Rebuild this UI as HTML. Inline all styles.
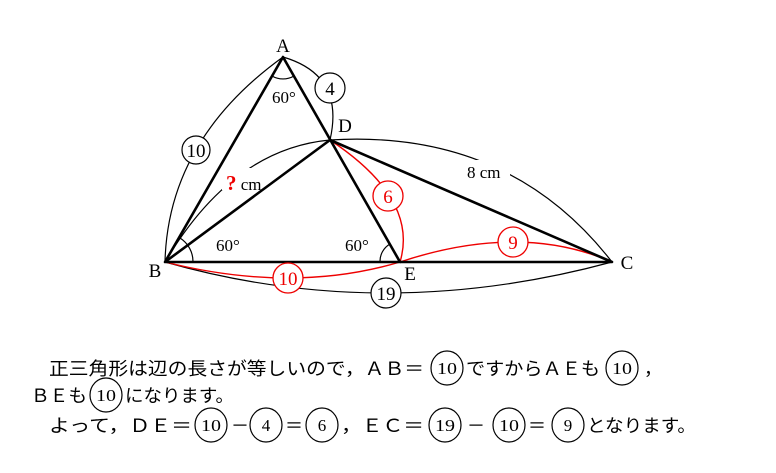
<!DOCTYPE html>
<html><head><meta charset="utf-8"><style>
body{margin:0;background:#fff}
svg{display:block}
text{font-family:"Liberation Serif","Noto Serif CJK SC",serif}
.j{font-family:"Liberation Serif","Noto Sans CJK JP",sans-serif;font-size:18px}
</style></head><body>
<svg width="776" height="473" viewBox="0 0 776 473" xmlns="http://www.w3.org/2000/svg">
<g fill="none" stroke="#000" stroke-width="1.2">
<path d="M165,262 Q168,140 283,57"/>
<path d="M283,57 Q345,75 330,140"/>
<path d="M165,262 Q232,149 330,140"/>
<path d="M330,140 Q509,129 612,262"/>
<path d="M165,262 Q383,324 612,262"/>
<path d="M272,76 A22,22 0 0 0 294,76"/>
<path d="M193,262 A28,28 0 0 0 180,238"/>
<path d="M380,262 A20,20 0 0 1 390,244"/>
</g>
<rect x="222" y="168" width="48" height="22" fill="#fff"/>
<rect x="464" y="160" width="46" height="22" fill="#fff"/>
<g fill="none" stroke="#e00" stroke-width="1.4">
<path d="M330,140 Q419,199 400,262"/>
<path d="M400,262 Q520,222 612,262"/>
<path d="M165,262 Q293,294 400,262"/>
</g>
<g stroke="#000" stroke-width="2.6" fill="none" stroke-linejoin="round">
<path d="M165,262 L283,57 L400,262 Z"/>
<path d="M165,262 L330,140 L612,262 L400,262"/>
</g>
<g fill="#fff" stroke="#000" stroke-width="1.2">
<circle cx="196" cy="150" r="14"/>
<circle cx="330" cy="88" r="15"/>
<circle cx="386" cy="293" r="15"/>
</g>
<g fill="#fff" stroke="#e00" stroke-width="1.3">
<circle cx="388" cy="196" r="15"/>
<circle cx="513" cy="242" r="15"/>
<circle cx="288" cy="278" r="15"/>
</g>
<g font-size="19" text-anchor="middle">
<text x="196" y="157">10</text>
<text x="330" y="95">4</text>
<text x="386" y="300">19</text>
<text x="388" y="203" fill="#e00">6</text>
<text x="513" y="249" fill="#e00">9</text>
<text x="288" y="285" fill="#e00">10</text>
<text x="283" y="52">A</text>
<text x="345" y="132">D</text>
<text x="155" y="277">B</text>
<text x="410" y="280">E</text>
<text x="627" y="269">C</text>
</g>
<g font-size="17">
<text x="272" y="103">60°</text>
<text x="216" y="251">60°</text>
<text x="345" y="251">60°</text>
<text x="226" y="190"><tspan fill="#e00" font-weight="bold" font-size="21">?</tspan> cm</text>
<text x="467" y="178">8 cm</text>
</g>
<g class="j">
<text class="j" x="49" y="375" textLength="375" lengthAdjust="spacingAndGlyphs">正三角形は辺の長さが等しいので，ＡＢ＝</text>
<text class="j" x="466" y="375" textLength="134" lengthAdjust="spacingAndGlyphs">ですからＡＥも</text>
<text class="j" x="644" y="375">，</text>
<text class="j" x="31" y="402" textLength="56" lengthAdjust="spacingAndGlyphs">ＢＥも</text>
<text class="j" x="125" y="402" textLength="109" lengthAdjust="spacingAndGlyphs">になります。</text>
<text class="j" x="49" y="432" textLength="143" lengthAdjust="spacingAndGlyphs">よって，ＤＥ＝</text>
<text class="j" x="231" y="432">－</text>
<text class="j" x="285" y="432">＝</text>
<text class="j" x="341" y="432" textLength="83" lengthAdjust="spacingAndGlyphs">，ＥＣ＝</text>
<text class="j" x="467" y="432">－</text>
<text class="j" x="528" y="432">＝</text>
<text class="j" x="587" y="432" textLength="109" lengthAdjust="spacingAndGlyphs">となります。</text>
</g>
<g fill="none" stroke="#000" stroke-width="1.2">
<ellipse cx="447" cy="368" rx="16" ry="17"/>
<ellipse cx="622" cy="368" rx="16" ry="17"/>
<ellipse cx="106" cy="395" rx="16" ry="17"/>
<ellipse cx="211" cy="425" rx="16" ry="17"/>
<ellipse cx="266" cy="425" rx="16" ry="17"/>
<ellipse cx="322" cy="425" rx="16" ry="17"/>
<ellipse cx="445" cy="425" rx="16" ry="17"/>
<ellipse cx="509" cy="425" rx="16" ry="17"/>
<ellipse cx="568" cy="425" rx="16" ry="17"/>
</g>
<g font-size="17" text-anchor="middle" fill="#000">
<text x="447" y="374" textLength="20" lengthAdjust="spacingAndGlyphs">10</text>
<text x="622" y="374" textLength="20" lengthAdjust="spacingAndGlyphs">10</text>
<text x="106" y="401" textLength="20" lengthAdjust="spacingAndGlyphs">10</text>
<text x="211" y="431" textLength="20" lengthAdjust="spacingAndGlyphs">10</text>
<text x="266" y="431">4</text>
<text x="322" y="431">6</text>
<text x="445" y="431" textLength="20" lengthAdjust="spacingAndGlyphs">19</text>
<text x="509" y="431" textLength="20" lengthAdjust="spacingAndGlyphs">10</text>
<text x="568" y="431">9</text>
</g>
</svg>
</body></html>
